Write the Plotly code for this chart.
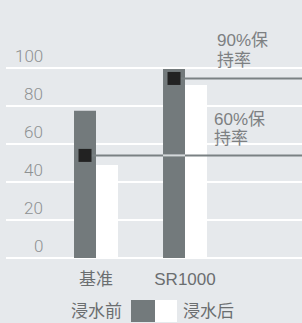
import plotly.graph_objects as go

categories = ["基准", "SR1000"]
before_vals = [77.5, 99.5]
after_vals = [49, 91]
marker_vals = [54, 94.5]
ytick_vals = [0, 20, 40, 60, 80, 100]
ytick_text = ["0", "20", "40", "60", "80", "100"]
ann_lines = [["90%保", "持率"], ["60%保", "持率"]]
legend_texts = ["浸水前", "浸水后"]

BG = "#e6e9ec"
DARK = "#737a7c"
LINE = "#7a8183"
FONT = "Liberation Sans, Noto Sans CJK SC, sans-serif"
LIGHT_FONT = "Roboto, Noto Sans CJK SC, sans-serif"

xpos = [0, 1]
bw = 0.247
x_min, x_max = -1.0112, 2.3146
y_max = 258 / 1.9


def px(p):
    return (p - 6) / 296


def py(p):
    return (258 - p) / 258


fig = go.Figure()
fig.add_trace(go.Bar(x=xpos, y=before_vals, width=bw, offset=-bw,
                     marker=dict(color=DARK, line=dict(width=0)), showlegend=False))
fig.add_trace(go.Bar(x=xpos, y=after_vals, width=bw, offset=0,
                     marker=dict(color="#ffffff", line=dict(width=0)), showlegend=False))

# retention lines
fig.add_trace(go.Scatter(x=[xpos[0] - bw / 2, x_max], y=[marker_vals[0]] * 2, mode="lines",
                         line=dict(color=LINE, width=2), showlegend=False, hoverinfo="skip"))
fig.add_trace(go.Scatter(x=[xpos[1] - bw, xpos[1]], y=[marker_vals[0]] * 2, mode="lines",
                         line=dict(color="#d4d8da", width=2), showlegend=False, hoverinfo="skip"))
fig.add_trace(go.Scatter(x=[xpos[1] - bw / 2, x_max], y=[marker_vals[1]] * 2, mode="lines",
                         line=dict(color=LINE, width=2), showlegend=False, hoverinfo="skip"))
fig.add_trace(go.Scatter(x=[p - bw / 2 for p in xpos], y=marker_vals, mode="markers",
                         marker=dict(symbol="square", size=13, color="#222222", line=dict(width=0)),
                         showlegend=False))

annotations = []
for v, t in zip(ytick_vals, ytick_text):
    annotations.append(dict(x=px(45), y=v, xref="paper", yref="y", text=t, showarrow=False,
                            xanchor="right", yanchor="middle", yshift=12,
                            font=dict(family=LIGHT_FONT, size=17, color="#8e9192", weight=300)))

ann_pos = [(215, [41, 61]), (212, [119, 138])]
for lines, (xl, ys) in zip(ann_lines, ann_pos):
    for line, yc in zip(lines, ys):
        annotations.append(dict(x=px(xl), y=py(yc), xref="paper", yref="paper", text=line,
                                showarrow=False, xanchor="left", yanchor="middle", align="left",
                                font=dict(family=FONT, size=17, color="#7d8082")))

# legend
annotations.append(dict(x=px(124), y=py(311), xref="paper", yref="paper", text=legend_texts[0],
                        showarrow=False, xanchor="right", yanchor="middle",
                        font=dict(family=FONT, size=17, color="#6b6e70")))
annotations.append(dict(x=px(181), y=py(311), xref="paper", yref="paper", text=legend_texts[1],
                        showarrow=False, xanchor="left", yanchor="middle",
                        font=dict(family=FONT, size=17, color="#6b6e70")))

shapes = [
    dict(type="rect", xref="paper", yref="paper", x0=px(131), x1=px(155),
         y0=py(322), y1=py(300), fillcolor=DARK, line=dict(width=0)),
    dict(type="rect", xref="paper", yref="paper", x0=px(155), x1=px(177),
         y0=py(322), y1=py(300), fillcolor="#ffffff", line=dict(width=0)),
]

fig.update_layout(
    width=302, height=323,
    margin=dict(l=6, r=0, t=0, b=65),
    paper_bgcolor=BG, plot_bgcolor=BG,
    barmode="overlay",
    annotations=annotations,
    shapes=shapes,
    xaxis=dict(range=[x_min, x_max], tickvals=xpos, ticktext=categories, showgrid=False,
               zeroline=False, showline=False, ticks="", ticklabelstandoff=9,
               tickfont=dict(family=FONT, size=17, color="#6b6e70"), fixedrange=True),
    yaxis=dict(range=[0, y_max], tickvals=ytick_vals, showticklabels=False, showgrid=True,
               gridcolor="#ffffff", gridwidth=1.5, zeroline=True, zerolinecolor="#ffffff",
               zerolinewidth=1.5, showline=False, ticks="", fixedrange=True),
)

fig.write_html("out.html", config={"displayModeBar": False},
               post_script="document.body.style.margin='0';")
